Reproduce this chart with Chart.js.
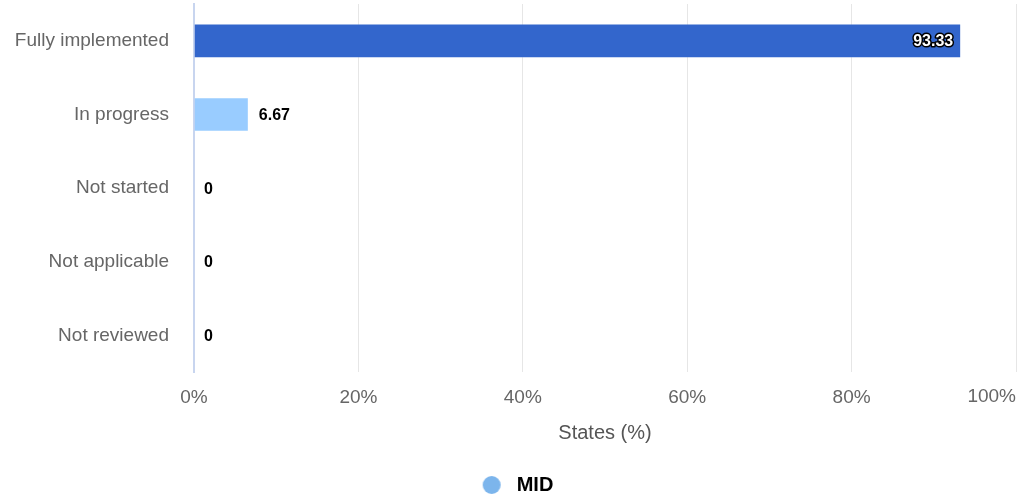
<!DOCTYPE html>
<html lang="en">
<head>
    <meta charset="UTF-8">
    <title>States chart</title>
    <style>
        body {
            margin: 0;
            background-color: #ffffff;
        }
        .chart-container {
            width: 1018px;
            height: 494px;
        }
    </style>
</head>
<body>
    <div class="chart-container">
        <canvas id="statesChart"></canvas>
    </div>

    <script src="https://cdn.jsdelivr.net/npm/chart.js"></script>
    <script>
        // chart data
        const categories = ['Fully implemented', 'In progress', 'Not started', 'Not applicable', 'Not reviewed'];
        const seriesName = 'MID';
        const midValues = [93.33, 6.67, 0, 0, 0];
        const barColors = ['#3366cc', '#99ccff', '#99ccff', '#99ccff', '#99ccff'];
        const xTicks = [0, 20, 40, 60, 80, 100];

        const FONT = '"Liberation Sans", Arial, sans-serif';

        // legend marker: circle sitting right of an empty gap (nudges the legend right)
        const marker = document.createElement('canvas');
        marker.width = 44;
        marker.height = 18;
        const mctx = marker.getContext('2d');
        mctx.fillStyle = '#7cb5ec';
        mctx.beginPath();
        mctx.arc(29, 9, 9, 0, Math.PI * 2);
        mctx.fill();

        // draws the value next to (or inside) each bar
        const valueLabels = {
            id: 'valueLabels',
            afterDatasetsDraw(chart) {
                const ctx = chart.ctx;
                const meta = chart.getDatasetMeta(0);
                ctx.save();
                ctx.font = 'bold 16px ' + FONT;
                ctx.textBaseline = 'middle';
                meta.data.forEach((bar, i) => {
                    const text = String(midValues[i]);
                    if (midValues[i] > 50) {
                        ctx.textAlign = 'right';
                        ctx.lineWidth = 3;
                        ctx.lineJoin = 'round';
                        ctx.strokeStyle = '#000000';
                        ctx.strokeText(text, bar.x - 8, bar.y + 1);
                        ctx.fillStyle = '#ffffff';
                        ctx.fillText(text, bar.x - 8, bar.y + 1);
                    } else {
                        ctx.textAlign = 'left';
                        ctx.fillStyle = '#000000';
                        ctx.fillText(text, bar.x + 10, bar.y + 1);
                    }
                });
                ctx.restore();
            }
        };

        // last x tick label sits flush with the right edge
        const lastTick = {
            id: 'lastTick',
            afterDraw(chart) {
                const ctx = chart.ctx;
                const x = chart.scales.x;
                ctx.save();
                ctx.font = '19px ' + FONT;
                ctx.fillStyle = '#666666';
                ctx.textAlign = 'right';
                ctx.textBaseline = 'middle';
                ctx.fillText(xTicks[xTicks.length - 1] + '%', chart.chartArea.right, x.top + 25);
                ctx.restore();
            }
        };

        const chartCtx = document.getElementById('statesChart').getContext('2d');
        const statesChart = new Chart(chartCtx, {
            type: 'bar',
            data: {
                labels: categories,
                datasets: [{
                    label: seriesName,
                    data: midValues,
                    backgroundColor: barColors,
                    borderColor: 'rgba(255,255,255,0.25)',
                    borderWidth: 1,
                    barPercentage: 0.47,
                    categoryPercentage: 1
                }]
            },
            options: {
                indexAxis: 'y',
                responsive: true,
                maintainAspectRatio: false,
                animation: false,
                layout: {
                    // legend box carries 10px of dead space at its bottom
                    padding: { top: 4, right: 2, left: 0, bottom: -11 }
                },
                scales: {
                    x: {
                        min: 0,
                        max: 100,
                        afterBuildTicks(scale) {
                            scale.ticks = xTicks.map(v => ({ value: v }));
                        },
                        afterFit(scale) {
                            scale.paddingRight = 0;
                            scale.paddingLeft = 0;
                        },
                        grid: {
                            color: '#e6e6e6',
                            drawTicks: false
                        },
                        border: { display: false },
                        ticks: {
                            padding: 14,
                            color: ctx => ctx.index === xTicks.length - 1 ? 'rgba(0,0,0,0)' : '#666666',
                            font: { family: FONT, size: 19 },
                            maxRotation: 0,
                            callback: v => v + '%'
                        },
                        title: {
                            display: true,
                            text: 'States (%)',
                            color: '#555555',
                            font: { family: FONT, size: 20 },
                            padding: { top: -2, bottom: 28 }
                        }
                    },
                    y: {
                        afterFit(scale) {
                            scale.paddingTop = 0;
                            scale.paddingBottom = 0;
                            scale.width = 194;
                        },
                        grid: { display: false, drawTicks: false },
                        border: { display: true, color: '#c8d5ef', width: 2 },
                        ticks: {
                            padding: 25,
                            color: '#666666',
                            font: { family: FONT, size: 19 }
                        }
                    }
                },
                plugins: {
                    legend: {
                        position: 'bottom',
                        labels: {
                            usePointStyle: true,
                            pointStyle: marker,
                            pointStyleWidth: 44,
                            boxHeight: 18,
                            padding: 2,
                            color: '#333333',
                            font: { family: FONT, size: 20, weight: 'bold' },
                            generateLabels: () => [{
                                text: seriesName,
                                fillStyle: '#7cb5ec',
                                strokeStyle: '#7cb5ec',
                                lineWidth: 0,
                                pointStyle: marker,
                                datasetIndex: 0
                            }]
                        }
                    },
                    tooltip: { enabled: false }
                }
            },
            plugins: [valueLabels, lastTick]
        });
    </script>
</body>
</html>
